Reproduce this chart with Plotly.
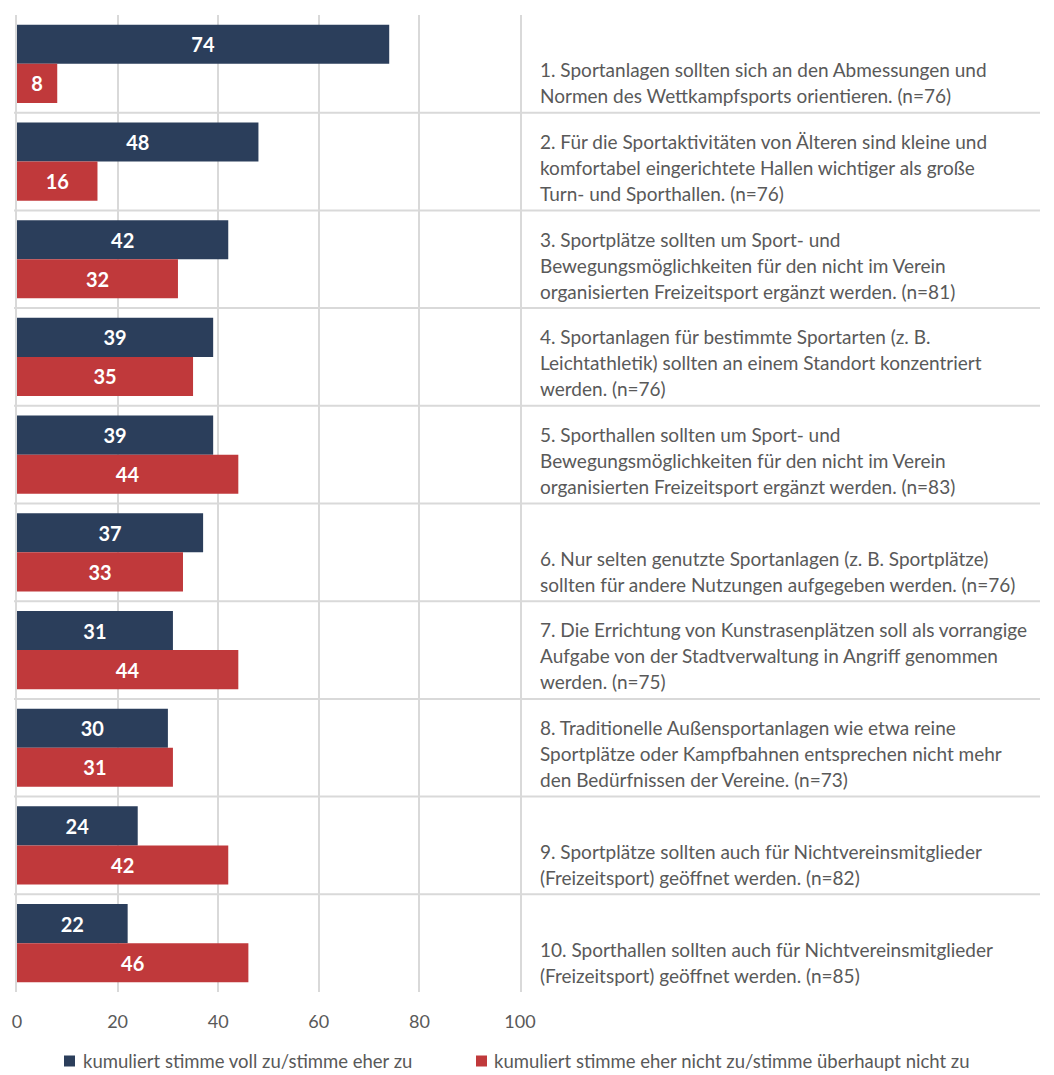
import plotly.graph_objects as go

# Survey statements (right-hand label column), wrapped as displayed
statements = [
    ["1. Sportanlagen sollten sich an den Abmessungen und",
     "Normen des Wettkampfsports orientieren. (n=76)"],
    ["2. Für die Sportaktivitäten von Älteren sind kleine und",
     "komfortabel eingerichtete Hallen wichtiger als große",
     "Turn- und Sporthallen. (n=76)"],
    ["3. Sportplätze sollten um Sport- und",
     "Bewegungsmöglichkeiten für den nicht im Verein",
     "organisierten Freizeitsport ergänzt werden. (n=81)"],
    ["4. Sportanlagen für bestimmte Sportarten (z. B.",
     "Leichtathletik) sollten an einem Standort konzentriert",
     "werden. (n=76)"],
    ["5. Sporthallen sollten um Sport- und",
     "Bewegungsmöglichkeiten für den nicht im Verein",
     "organisierten Freizeitsport ergänzt werden. (n=83)"],
    ["6. Nur selten genutzte Sportanlagen (z. B. Sportplätze)",
     "sollten für andere Nutzungen aufgegeben werden. (n=76)"],
    ["7. Die Errichtung von Kunstrasenplätzen soll als vorrangige",
     "Aufgabe von der Stadtverwaltung in Angriff genommen",
     "werden. (n=75)"],
    ["8. Traditionelle Außensportanlagen wie etwa reine",
     "Sportplätze oder Kampfbahnen entsprechen nicht mehr",
     "den Bedürfnissen der Vereine. (n=73)"],
    ["9. Sportplätze sollten auch für Nichtvereinsmitglieder",
     "(Freizeitsport) geöffnet werden. (n=82)"],
    ["10. Sporthallen sollten auch für Nichtvereinsmitglieder",
     "(Freizeitsport) geöffnet werden. (n=85)"],
]

agree = [74, 48, 42, 39, 39, 37, 31, 30, 24, 22]
disagree = [8, 16, 32, 35, 44, 33, 44, 31, 42, 46]

series_names = ["kumuliert stimme voll zu/stimme eher zu",
                "kumuliert stimme eher nicht zu/stimme überhaupt nicht zu"]
x_ticks = [0, 20, 40, 60, 80, 100]

NAVY = "#2b3e5b"
RED = "#c0393b"
GRID = "#d9d9d9"
TEXT = "#595959"
FONT = "Lato"

W, H = 1054, 1075
PL, PR, PT, PB = 17, 520, 15, 992   # plot-area edges in pixels


def px_x(px):
    return (px - PL) / (PR - PL)


def px_y(py):
    return (PB - py) / (PB - PT)


rows = list(range(len(statements)))
colors = [NAVY, RED]

fig = go.Figure()
for vals, name, color in zip([agree, disagree], series_names, colors):
    fig.add_trace(go.Bar(
        y=rows, x=vals, name=name, orientation="h",
        marker=dict(color=color, line=dict(width=0)),
        text=vals, texttemplate="%{x}", textposition="inside",
        insidetextanchor="middle", constraintext="none",
        textfont=dict(color="white", size=20, family=FONT, weight="bold"),
        showlegend=False,
    ))

# Horizontal separators between the statements, running across the label column
for k in range(len(statements) - 1):
    fig.add_shape(type="line", xref="paper", yref="y",
                  x0=px_x(14), x1=px_x(1040), y0=k + 0.5, y1=k + 0.5,
                  line=dict(color=GRID, width=2), layer="below")

# Statement text, bottom-aligned within each row
for k, lines in enumerate(statements):
    n = len(lines)
    for j, line in enumerate(lines):
        fig.add_annotation(
            x=px_x(538), xref="paper", y=k + 0.5, yref="y",
            text=line, showarrow=False, xanchor="left", yanchor="middle",
            yshift=17 + (n - 1 - j) * 26,
            font=dict(size=19, color=TEXT, family=FONT),
        )

# Legend below the axis: coloured square + label for each series
legend_pos = [(64, 81), (476, 492)]
legend_y = 1061
for (sq_x, tx_x), name, color in zip(legend_pos, series_names, colors):
    fig.add_shape(type="rect", xref="paper", yref="paper",
                  x0=px_x(sq_x), x1=px_x(sq_x + 11),
                  y0=px_y(legend_y + 5.5), y1=px_y(legend_y - 5.5),
                  fillcolor=color, line=dict(width=0))
    fig.add_annotation(x=px_x(tx_x), y=px_y(legend_y), xref="paper", yref="paper",
                       text=name, showarrow=False, xanchor="left", yanchor="middle",
                       font=dict(size=18.5, color=TEXT, family=FONT))

fig.update_layout(
    width=W, height=H,
    margin=dict(l=PL, r=W - PR, t=PT, b=H - PB),
    paper_bgcolor="white", plot_bgcolor="white",
    barmode="group", bargap=0.2, bargroupgap=0,
    font=dict(family=FONT, color=TEXT, size=15),
    showlegend=False,
)
fig.update_xaxes(range=[0, 100], tickvals=x_ticks, showgrid=True, gridcolor=GRID,
                 gridwidth=2, zeroline=False, showline=False,
                 ticks="outside", ticklen=13, tickcolor="rgba(0,0,0,0)",
                 tickfont=dict(size=18, color=TEXT, family=FONT), fixedrange=True)
fig.update_yaxes(range=[len(statements) - 0.5, -0.5], showticklabels=False,
                 showgrid=False, zeroline=False,
                 showline=True, mirror=True, linecolor=GRID, linewidth=2,
                 fixedrange=True)

fig.write_html("out.html")
